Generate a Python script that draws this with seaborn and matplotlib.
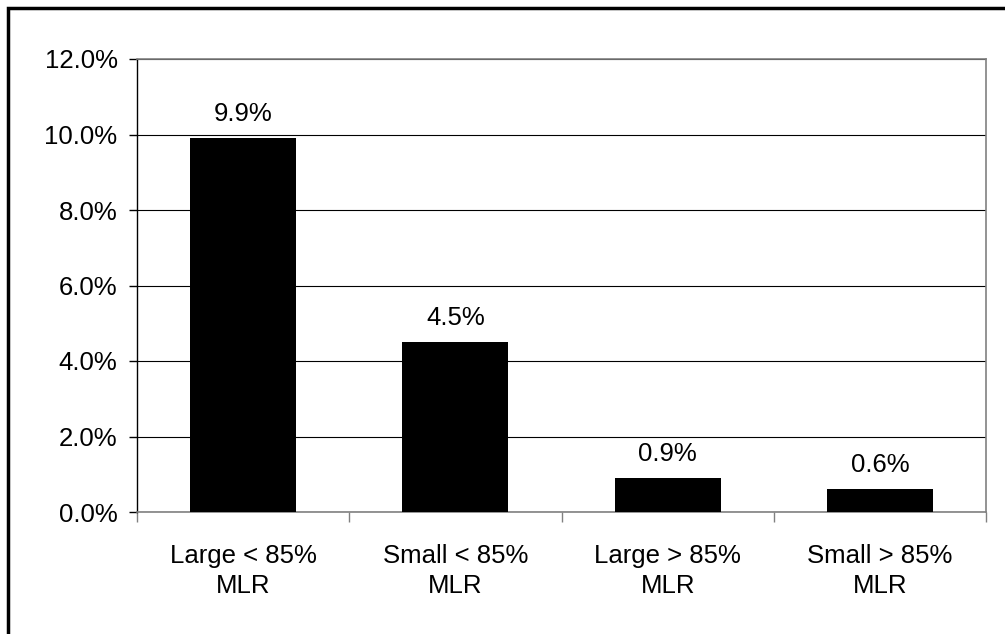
import matplotlib
matplotlib.use("Agg")
import matplotlib.pyplot as plt
import matplotlib.patches as mpatches
from matplotlib.ticker import FuncFormatter, MultipleLocator
import pandas as pd
import seaborn as sns

categories = ["Large < 85%\nMLR", "Small < 85%\nMLR", "Large > 85%\nMLR", "Small > 85%\nMLR"]
shares = [9.9, 4.5, 0.9, 0.6]
bar_labels = ["9.9%", "4.5%", "0.9%", "0.6%"]

sns.set_theme(style="white")
plt.rcParams["font.family"] = ["Liberation Sans", "DejaVu Sans"]

df = pd.DataFrame({"category": categories, "share": shares})

fs = 18.5

fig = plt.figure(figsize=(10.05, 6.34), dpi=100)
ax = fig.add_axes([137 / 1005, 1 - 512 / 634, (986 - 137) / 1005, (512 - 59) / 634])

sns.barplot(data=df, x="category", y="share", color="black", width=0.5,
            saturation=1, ax=ax, zorder=3, edgecolor="black", linewidth=0)

ax.set_ylim(0, 12)
ax.set_xlim(-0.5, len(categories) - 0.5)
ax.yaxis.set_major_locator(MultipleLocator(2))
ax.yaxis.set_major_formatter(FuncFormatter(lambda v, _: f"{v:.1f}%"))
ax.grid(axis="y", color="black", linewidth=0.8, zorder=0)
ax.set_xlabel("")
ax.set_ylabel("")

for i, (v, lab) in enumerate(zip(shares, bar_labels)):
    ax.text(i, v + 0.33, lab, ha="center", va="bottom", fontsize=fs, color="black")

for side in ["top", "right"]:
    ax.spines[side].set_color("#808080")
    ax.spines[side].set_linewidth(1.2)
ax.spines["left"].set_color("black")
ax.spines["left"].set_linewidth(1.0)
ax.spines["bottom"].set_color("#808080")
ax.spines["bottom"].set_linewidth(1.2)

ax.tick_params(axis="y", left=True, length=6, width=1, color="black",
               labelsize=fs, pad=8, labelcolor="black")
ax.set_xticks(range(len(categories)))
ax.set_xticklabels(categories)
ax.tick_params(axis="x", bottom=False, labelsize=fs, pad=17, labelcolor="black")
# minor ticks between categories
ax.set_xticks([i - 0.5 for i in range(len(categories) + 1)], minor=True)
ax.tick_params(axis="x", which="minor", bottom=True, length=7, width=1, color="#808080")
for t in ax.get_xticklabels():
    t.set_linespacing(1.3)

# outer frame (clipped on the right and bottom like the original)
frame = mpatches.Rectangle((8 / 1005, 1 - 8 / 634 - 700 / 634), 1200 / 1005, 700 / 634,
                           transform=fig.transFigure, fill=False, edgecolor="black",
                           linewidth=2.5, clip_on=False)
fig.patches.append(frame)

fig.savefig("out.png", dpi=100, facecolor="white")
